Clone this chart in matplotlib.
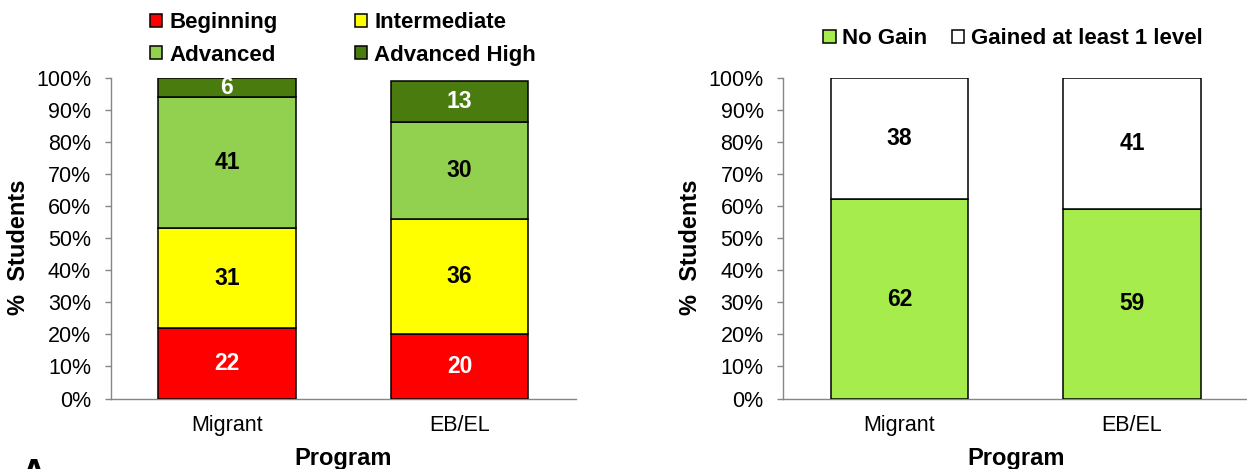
import matplotlib
matplotlib.use("Agg")
import matplotlib.pyplot as plt
from matplotlib.patches import Patch
from matplotlib.ticker import FixedLocator, PercentFormatter

plt.rcParams['font.family'] = ['Liberation Sans', 'DejaVu Sans']

# ---- data ----
programs = ["Migrant", "EB/EL"]

level_names = ["Beginning", "Intermediate", "Advanced", "Advanced High"]
level_values = {
    "Beginning": [22, 20],
    "Intermediate": [31, 36],
    "Advanced": [41, 30],
    "Advanced High": [6, 13],
}
level_colors = ["#FF0000", "#FFFF00", "#92D050", "#4A7B0E"]
level_text_colors = ["white", "black", "black", "white"]

gain_names = ["No Gain", "Gained at least 1 level"]
gain_values = {
    "No Gain": [62, 59],
    "Gained at least 1 level": [38, 41],
}
gain_colors = ["#A6EC4C", "#FFFFFF"]
gain_text_colors = ["black", "black"]

y_ticks = list(range(0, 101, 10))

FS = 15.5
AX_GRAY = "#868686"

fig = plt.figure(figsize=(12.47, 4.69), dpi=100)
ax1 = fig.add_axes([0.0888, 0.1503, 0.3729, 0.6844])
ax2 = fig.add_axes([0.6281, 0.1503, 0.3729, 0.6844])


def stacked(ax, names, values, colors, text_colors):
    x = list(range(len(programs)))
    bottom = [0] * len(programs)
    for name, color, tc in zip(names, colors, text_colors):
        vals = values[name]
        bars = ax.bar(x, vals, width=0.59, bottom=bottom, color=color,
                      edgecolor="black", linewidth=1.1, zorder=3)
        for b, v, b0 in zip(bars, vals, bottom):
            ax.text(b.get_x() + b.get_width() / 2, b0 + v / 2, f"{v}",
                    ha="center", va="center", fontsize=16.5, fontweight="bold",
                    color=tc, zorder=4)
        bottom = [b0 + v for b0, v in zip(bottom, vals)]

    ax.set_xlim(-0.5, 1.5)
    ax.set_ylim(0, 100)
    ax.yaxis.set_major_locator(FixedLocator(y_ticks))
    ax.yaxis.set_major_formatter(PercentFormatter(decimals=0))
    ax.set_xticks(x)
    ax.set_xticklabels(programs)
    for s in ("top", "right"):
        ax.spines[s].set_visible(False)
    for s in ("left", "bottom"):
        ax.spines[s].set_color(AX_GRAY)
        ax.spines[s].set_linewidth(1.0)
    ax.tick_params(axis="y", length=4.2, width=1.0, color=AX_GRAY,
                   labelsize=FS, pad=10, direction="out")
    ax.tick_params(axis="x", length=0, labelsize=FS, pad=12)
    ax.set_xlabel("Program", fontsize=17, fontweight="bold")
    ax.xaxis.set_label_coords(0.5, -0.15)
    ax.xaxis.label.set_va("top")
    ax.set_ylabel("%  Students", fontsize=17, fontweight="bold")
    ax.yaxis.set_label_coords(-0.199, 0.47)
    ax.yaxis.label.set_va("center")


stacked(ax1, level_names, level_values, level_colors, level_text_colors)
stacked(ax2, gain_names, gain_values, gain_colors, gain_text_colors)

# legend fills column-wise, so order entries to read across rows
leg_order = [0, 2, 1, 3]
h1 = [Patch(facecolor=level_colors[i], edgecolor="black", linewidth=1.1)
      for i in leg_order]
fig.legend(h1, [level_names[i] for i in leg_order], ncol=2, loc="center",
           bbox_to_anchor=(343 / 1247, 1 - 39 / 469),
           frameon=False, prop={"size": 16, "weight": "bold"},
           handlelength=0.55, handleheight=0.55, handletextpad=0.3,
           columnspacing=3.5, labelspacing=0.5, borderpad=0)

h2 = [Patch(facecolor=c, edgecolor="black", linewidth=1.1) for c in gain_colors]
fig.legend(h2, gain_names, ncol=2, loc="center",
           bbox_to_anchor=(1013 / 1247, 1 - 39 / 469),
           frameon=False, prop={"size": 16, "weight": "bold"},
           handlelength=0.55, handleheight=0.55, handletextpad=0.3,
           columnspacing=1.1, borderpad=0)

fig.text(0.016, -0.035, "A", fontsize=26, fontweight="bold",
         ha="left", va="baseline")

fig.savefig("out.png", dpi=100)
